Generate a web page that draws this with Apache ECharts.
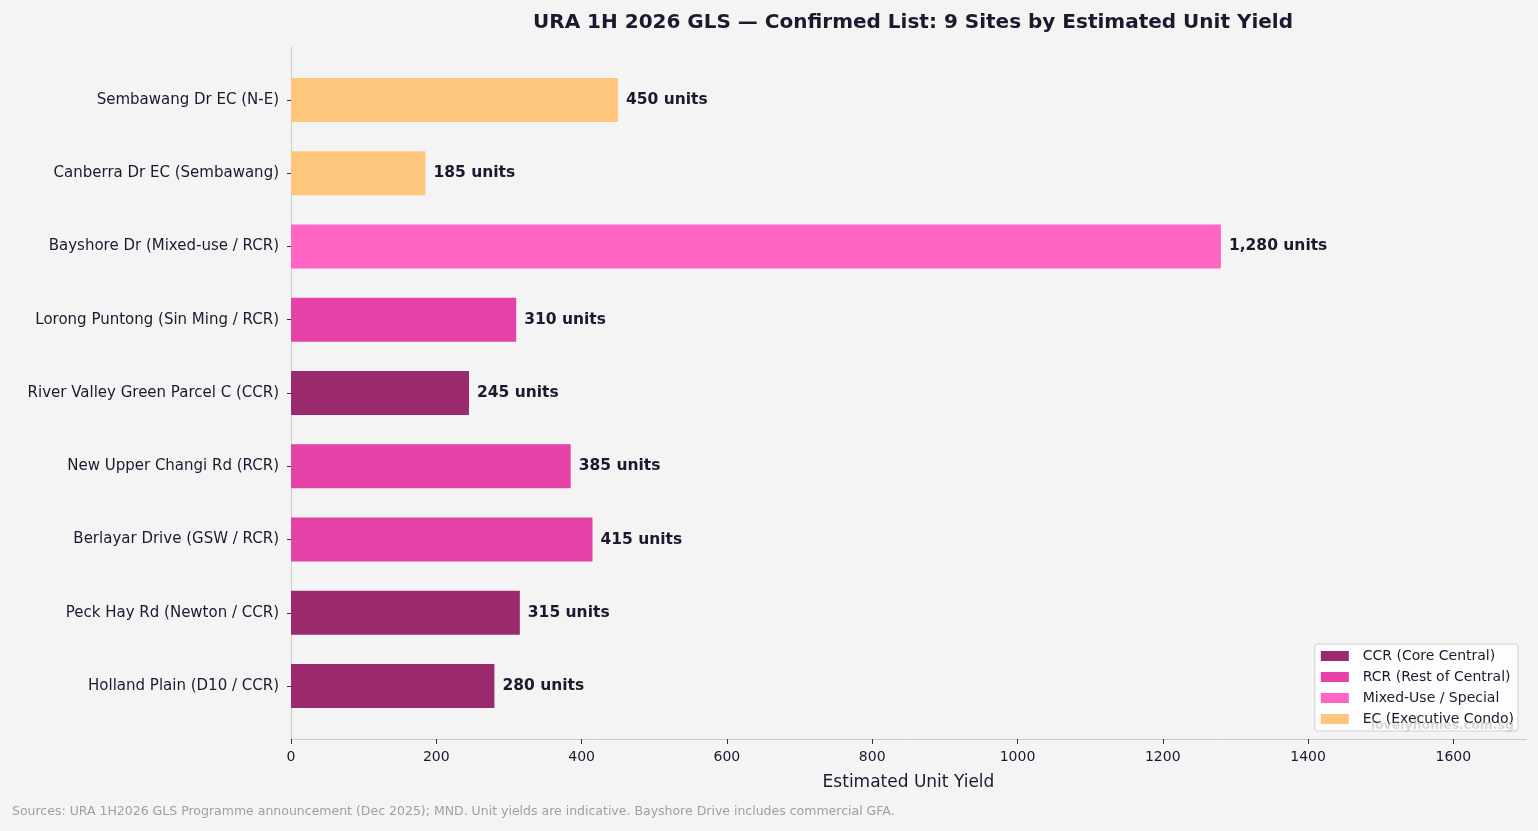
<!DOCTYPE html>
<html><head><meta charset="utf-8">
<script src="https://cdn.jsdelivr.net/npm/echarts@6/dist/echarts.min.js"></script>
<style>html,body{margin:0;padding:0;background:#f4f4f4;}#c{width:1538px;height:831px;}</style>
</head><body><div id="c"></div>
<script>
const sites = ["Sembawang Dr EC (N-E)","Canberra Dr EC (Sembawang)","Bayshore Dr (Mixed-use / RCR)","Lorong Puntong (Sin Ming / RCR)","River Valley Green Parcel C (CCR)","New Upper Changi Rd (RCR)","Berlayar Drive (GSW / RCR)","Peck Hay Rd (Newton / CCR)","Holland Plain (D10 / CCR)"];
const units = [450,185,1280,310,245,385,415,315,280];
const segment = ["EC","EC","Mixed","RCR","CCR","RCR","RCR","CCR","CCR"];
const groups = ["CCR","RCR","Mixed","EC"];
const groupNames = ["CCR (Core Central)","RCR (Rest of Central)","Mixed-Use / Special","EC (Executive Condo)"];
const groupColors = ["#9b2a6f","#e541a6","#ff66c4","#fdc67c"];
const xTicks = [0,200,400,600,800,1000,1200,1400,1600];

const font = "DejaVu Sans";
const dark = "#1a1a2e";
const chart = echarts.init(document.getElementById('c'));
const series = groups.map((g,gi)=>({
  name: groupNames[gi], type:'bar', stack:'all', xAxisIndex:1, yAxisIndex:1,
  barWidth:'60%', itemStyle:{color:groupColors[gi]},
  data: units.map((v,i)=> segment[i]===g ? v : null),
  label:{show:true, position:'right', distance:8, fontFamily:font, fontWeight:'bold', fontSize:15.5, color:dark,
    formatter:p=> p.value.toLocaleString('en-US')+' units'},
  animation:false
}));
chart.setOption({
  backgroundColor:'#f4f4f4',
  animation:false,
  title:{text:'URA 1H 2026 GLS — Confirmed List: 9 Sites by Estimated Unit Yield', left:908, textAlign:'center', top:8,
    textStyle:{fontFamily:font, fontWeight:'bold', fontSize:20, color:dark}},
  grid:[{left:291,right:12,top:47,bottom:92},{left:291,right:12,top:63.3,bottom:108.3}],
  xAxis:[
    {type:'value', gridIndex:0, min:0, max:1700, interval:100,
      axisLine:{show:true,lineStyle:{color:'#cccccc'}}, splitLine:{show:false},
      axisTick:{show:true, customValues:xTicks, length:5, lineStyle:{color:'#333'}},
      axisLabel:{customValues:xTicks, formatter:v=>String(v), fontFamily:font, fontSize:14, color:dark, margin:11},
      name:'Estimated Unit Yield', nameLocation:'middle', nameGap:35,
      nameTextStyle:{fontFamily:font, fontSize:17, color:dark}},
    {type:'value', gridIndex:1, min:0, max:1700, show:false, splitLine:{show:false}}
  ],
  yAxis:[
    {type:'value', gridIndex:0, min:0, max:1, axisLine:{show:true,lineStyle:{color:'#cccccc'}},
      axisTick:{show:false}, axisLabel:{show:false}, splitLine:{show:false}},
    {type:'category', gridIndex:1, data:sites, inverse:true,
      axisLine:{show:false}, axisTick:{show:true, alignWithLabel:true, length:4, lineStyle:{color:'#333'}},
      axisLabel:{fontFamily:font, fontSize:15, color:dark, margin:12}}
  ],
  legend:{orient:'vertical', right:20, top:644, itemWidth:28, itemHeight:10, itemGap:7,
    icon:'rect', backgroundColor:'rgba(255,255,255,0.8)', borderColor:'#d0d0d0', borderWidth:1, borderRadius:3,
    padding:[5,4,5,6], formatter:n=>'  '+n, textStyle:{fontFamily:font, fontSize:14, color:dark}, data:groupNames},
  graphic:[
    {type:'text', left:12, top:805, style:{text:'Sources: URA 1H2026 GLS Programme announcement (Dec 2025); MND. Unit yields are indicative. Bayshore Drive includes commercial GFA.', fontFamily:font, fontSize:12.5, fill:'#a0a0a0'}},
    {type:'text', right:24, top:719, z:100, style:{text:'lovelyhomes.com.sg', fontFamily:font, fontWeight:'bold', fontSize:12.5, fill:'rgba(170,170,170,0.45)'}}
  ],
  series: series
});
</script></body></html>
